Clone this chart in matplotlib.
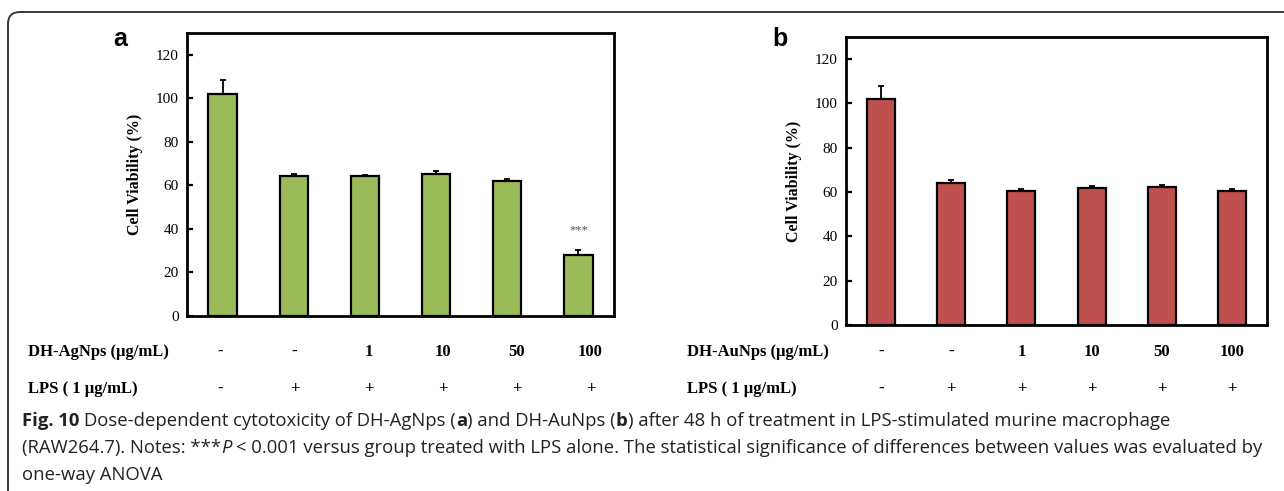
import matplotlib
matplotlib.use("Agg")
import matplotlib.pyplot as plt
from matplotlib.patches import FancyBboxPatch
import numpy as np

# values
ag_viability = [102.0, 64.2, 64.2, 65.4, 62.1, 27.9]
ag_err = [6.5, 1.2, 0.6, 1.2, 0.8, 2.6]
au_viability = [101.8, 64.1, 60.4, 61.9, 62.4, 60.7]
au_err = [6.3, 1.2, 0.9, 0.7, 0.6, 0.6]

dose_labels = ["-", "-", "1", "10", "50", "100"]
lps_labels = ["-", "+", "+", "+", "+", "+"]
sig_marks = ["", "", "", "", "", "***"]
y_ticks = [0, 20, 40, 60, 80, 100, 120]

W, H = 1284, 491
SERIF = ["Liberation Serif", "DejaVu Serif"]
SANS = ["Open Sans", "DejaVu Sans"]


def px_axes(fig, left, top, right, bottom):
    return fig.add_axes([left / W, 1 - bottom / H, (right - left) / W, (bottom - top) / H])


def draw_panel(fig, box, values, errs, color, letter, row_title, label_spread, label_shift, marks):
    left, top, right, bottom = box
    ax = px_axes(fig, left, top, right, bottom)
    x = np.arange(len(values))
    ax.bar(x, values, width=0.4, color=color, edgecolor="black", linewidth=1.6, zorder=2)
    ax.errorbar(x, values, yerr=[np.zeros(len(errs)), errs], fmt="none",
                ecolor="black", elinewidth=1.3, capsize=2.5, capthick=1.3, zorder=3)
    for xi, v, e, m in zip(x, values, errs, marks):
        if m:
            ax.text(xi, v + e + 6, m, ha="center", va="bottom", fontsize=9,
                    color="#555555", family=SERIF)
    ax.set_xlim(-0.5, len(values) - 0.5)
    ax.set_ylim(0, 130)
    ax.set_yticks(y_ticks)
    ax.set_xticks([])
    ax.tick_params(axis="y", direction="in", length=4, width=1.6, pad=6, labelsize=11)
    for lab in ax.get_yticklabels():
        lab.set_family(SERIF)
    for sp in ax.spines.values():
        sp.set_linewidth(2.0)
    ax.set_ylabel("Cell Viability (%)", family=SERIF, fontweight="bold", fontsize=11.5, labelpad=9)

    fig.text((left - 74) / W, 1 - 46 / H, letter, fontsize=18, fontweight="bold",
             family=["Liberation Sans", "DejaVu Sans"], ha="left", va="baseline")

    # rows of treatment labels under the bars
    x_lab = x * label_spread + label_shift
    for row_y, title, labels in [(352, row_title, dose_labels), (389, "LPS ( 1 \u03bcg/mL)", lps_labels)]:
        fig.text((left - 159) / W, 1 - row_y / H, title, family=SERIF, fontweight="bold",
                 fontsize=12, ha="left", va="center")
        for xi, lab in zip(x_lab, labels):
            px = left + (xi + 0.5) / len(values) * (right - left)
            fig.text(px / W, 1 - row_y / H, lab, family=SERIF, fontweight="bold",
                     fontsize=12, ha="center", va="center")
    return ax


def draw_runs(fig, x0, y0, runs, size, color):
    # draw a line of text made from runs of differing weight / style
    renderer = fig.canvas.get_renderer()
    sp = fig.text(0, 0, "a a", fontsize=size, family=SANS)
    nsp = fig.text(0, 0, "aa", fontsize=size, family=SANS)
    space = sp.get_window_extent(renderer).width - nsp.get_window_extent(renderer).width
    sp.remove()
    nsp.remove()
    x = x0
    for text, weight, style in runs:
        lead = len(text) - len(text.lstrip(" "))
        x += lead * space
        t = fig.text(x / W, 1 - y0 / H, text.strip(" "), fontsize=size, fontweight=weight,
                     fontstyle=style, family=SANS, color=color, ha="left", va="center")
        x += t.get_window_extent(renderer).width
        trail = len(text) - len(text.rstrip(" "))
        x += trail * space


fig = plt.figure(figsize=(W / 100, H / 100), dpi=100)

border = FancyBboxPatch((8, -60), 1400, H - 12 + 60, boxstyle="round,pad=0,rounding_size=12",
                        transform=None, fill=False, edgecolor="#3a3a3a", linewidth=1.4)
fig.patches.append(border)

draw_panel(fig, (187, 33, 614, 316), ag_viability, ag_err, "#9BBB59", "a",
           "DH-AgNps (\u03bcg/mL)", 1.04, -0.03, sig_marks)
draw_panel(fig, (846, 37, 1267, 325), au_viability, au_err, "#C0504D", "b",
           "DH-AuNps (\u03bcg/mL)", 1.0, 0.0, [""] * 6)

cap_color = "#222222"
cap_size = 13.3
draw_runs(fig, 22, 421, [
    ("Fig. 10", "bold", "normal"),
    (" Dose-dependent cytotoxicity of DH-AgNps (", "normal", "normal"),
    ("a", "bold", "normal"),
    (") and DH-AuNps (", "normal", "normal"),
    ("b", "bold", "normal"),
    (") after 48 h of treatment in LPS-stimulated murine macrophage", "normal", "normal"),
], cap_size, cap_color)
draw_runs(fig, 22, 448, [
    ("(RAW264.7). Notes: ***", "normal", "normal"),
    ("P", "normal", "italic"),
    (" < 0.001 versus group treated with LPS alone. The statistical significance of differences between values was evaluated by",
     "normal", "normal"),
], cap_size, cap_color)
draw_runs(fig, 22, 475, [("one-way ANOVA", "normal", "normal")], cap_size, cap_color)

fig.savefig("out.png", dpi=100)
